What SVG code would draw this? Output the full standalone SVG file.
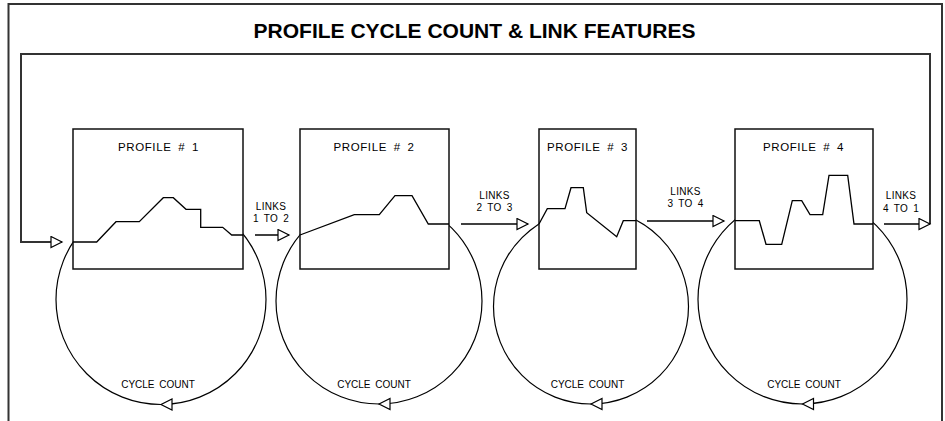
<svg xmlns="http://www.w3.org/2000/svg" width="945" height="421" viewBox="0 0 945 421">
<style>
.frame{fill:none;stroke:#333;stroke-width:2}
.box{fill:#fff;stroke:#111;stroke-width:1.5}
.circ{fill:none;stroke:#000;stroke-width:1.2}
.prof{fill:none;stroke:#000;stroke-width:1.3;stroke-linejoin:miter}
.conn{fill:none;stroke:#000;stroke-width:1.3}
.loop{fill:none;stroke:#333;stroke-width:2}
.head{fill:#fff;stroke:#000;stroke-width:1.2}
.title{font-family:"Liberation Sans",Arial,sans-serif;font-weight:bold;font-size:21px;fill:#000}
.ptitle{font-family:"Liberation Sans",Arial,sans-serif;font-size:11.5px;letter-spacing:0.6px;word-spacing:3px;fill:#000}
.lbl{font-family:"Liberation Sans",Arial,sans-serif;font-size:10px;letter-spacing:0.3px;word-spacing:2px;fill:#000}
.cc{font-family:"Liberation Sans",Arial,sans-serif;font-size:10px;word-spacing:2px;fill:#000}
</style>
<defs>
<marker id="arr" markerUnits="userSpaceOnUse" markerWidth="14" markerHeight="14" refX="12" refY="6.5" orient="auto">
<path d="M1,1 L12,6.5 L1,12 Z" fill="#fff" stroke="#000" stroke-width="1.2"/>
</marker>
</defs>
<path class="frame" d="M8.5,421 V4 H942 V421"/>
<text class="title" x="474.5" y="37.5" text-anchor="middle">PROFILE CYCLE COUNT &amp; LINK FEATURES</text>

<g id="profile1">
<circle class="circ" cx="161" cy="299.5" r="105"/>
<rect class="box" x="73" y="129" width="170" height="140"/>
<text class="ptitle" x="158.5" y="151" text-anchor="middle">PROFILE # 1</text>
<polyline class="prof" points="73,242 96.7,242 116,221.7 139.3,221.7 163.3,197.7 173.3,197.7 186,209.3 200.7,209.3 200.7,227.3 222.7,227.3 231.7,235 243,235"/>
<text class="cc" x="158" y="388" text-anchor="middle">CYCLE COUNT</text>
<path class="head" d="M161,404.5 L172,399 L172,410 Z"/>
</g>

<g id="profile2">
<circle class="circ" cx="379" cy="301" r="103"/>
<rect class="box" x="300" y="129" width="149" height="140"/>
<text class="ptitle" x="374" y="151" text-anchor="middle">PROFILE # 2</text>
<polyline class="prof" points="300,235 354.3,214.7 379.3,214.7 395,195.7 412,195.7 428.3,224 449,224"/>
<text class="cc" x="374" y="388" text-anchor="middle">CYCLE COUNT</text>
<path class="head" d="M379,404 L390,398.5 L390,409.5 Z"/>
</g>

<g id="profile3">
<circle class="circ" cx="591" cy="306.5" r="97.5"/>
<rect class="box" x="539" y="129" width="97" height="140"/>
<text class="ptitle" x="587.5" y="151" text-anchor="middle">PROFILE # 3</text>
<polyline class="prof" points="539,224 547.3,208.7 565,208.7 571,187.7 583.3,187.7 586.7,212.7 616.7,236.7 623.3,220.7 636,220.7"/>
<text class="cc" x="587.5" y="388" text-anchor="middle">CYCLE COUNT</text>
<path class="head" d="M591,404 L602,398.5 L602,409.5 Z"/>
</g>

<g id="profile4">
<circle class="circ" cx="802.5" cy="299.5" r="104.5"/>
<rect class="box" x="735" y="129" width="138" height="140"/>
<text class="ptitle" x="803.5" y="151" text-anchor="middle">PROFILE # 4</text>
<polyline class="prof" points="735,220.7 759.3,220.7 766,244.3 781.7,244.3 792.3,200.7 801.7,200.7 810,214.7 822.7,214.7 829,175.3 847.7,175.3 854,224 873,224"/>
<text class="cc" x="804" y="388" text-anchor="middle">CYCLE COUNT</text>
<path class="head" d="M802.5,404 L813.5,398.5 L813.5,409.5 Z"/>
</g>

<g id="connectors">
<path class="loop" d="M930,224 V54 H21 V242 H62" marker-end="url(#arr)"/>
<path class="conn" d="M255,235 H289" marker-end="url(#arr)"/>
<path class="conn" d="M461,224 H528" marker-end="url(#arr)"/>
<path class="conn" d="M647,221 H724" marker-end="url(#arr)"/>
<path class="conn" d="M884,224 H930" marker-end="url(#arr)"/>
</g>

<g id="labels">
<text class="lbl" x="271" y="210" text-anchor="middle">LINKS</text>
<text class="lbl" x="271" y="222" text-anchor="middle">1 TO 2</text>
<text class="lbl" x="494.5" y="199" text-anchor="middle">LINKS</text>
<text class="lbl" x="494.5" y="211" text-anchor="middle">2 TO 3</text>
<text class="lbl" x="685.5" y="195" text-anchor="middle">LINKS</text>
<text class="lbl" x="685.5" y="207" text-anchor="middle">3 TO 4</text>
<text class="lbl" x="901" y="199" text-anchor="middle">LINKS</text>
<text class="lbl" x="901" y="212" text-anchor="middle">4 TO 1</text>
</g>
</svg>
